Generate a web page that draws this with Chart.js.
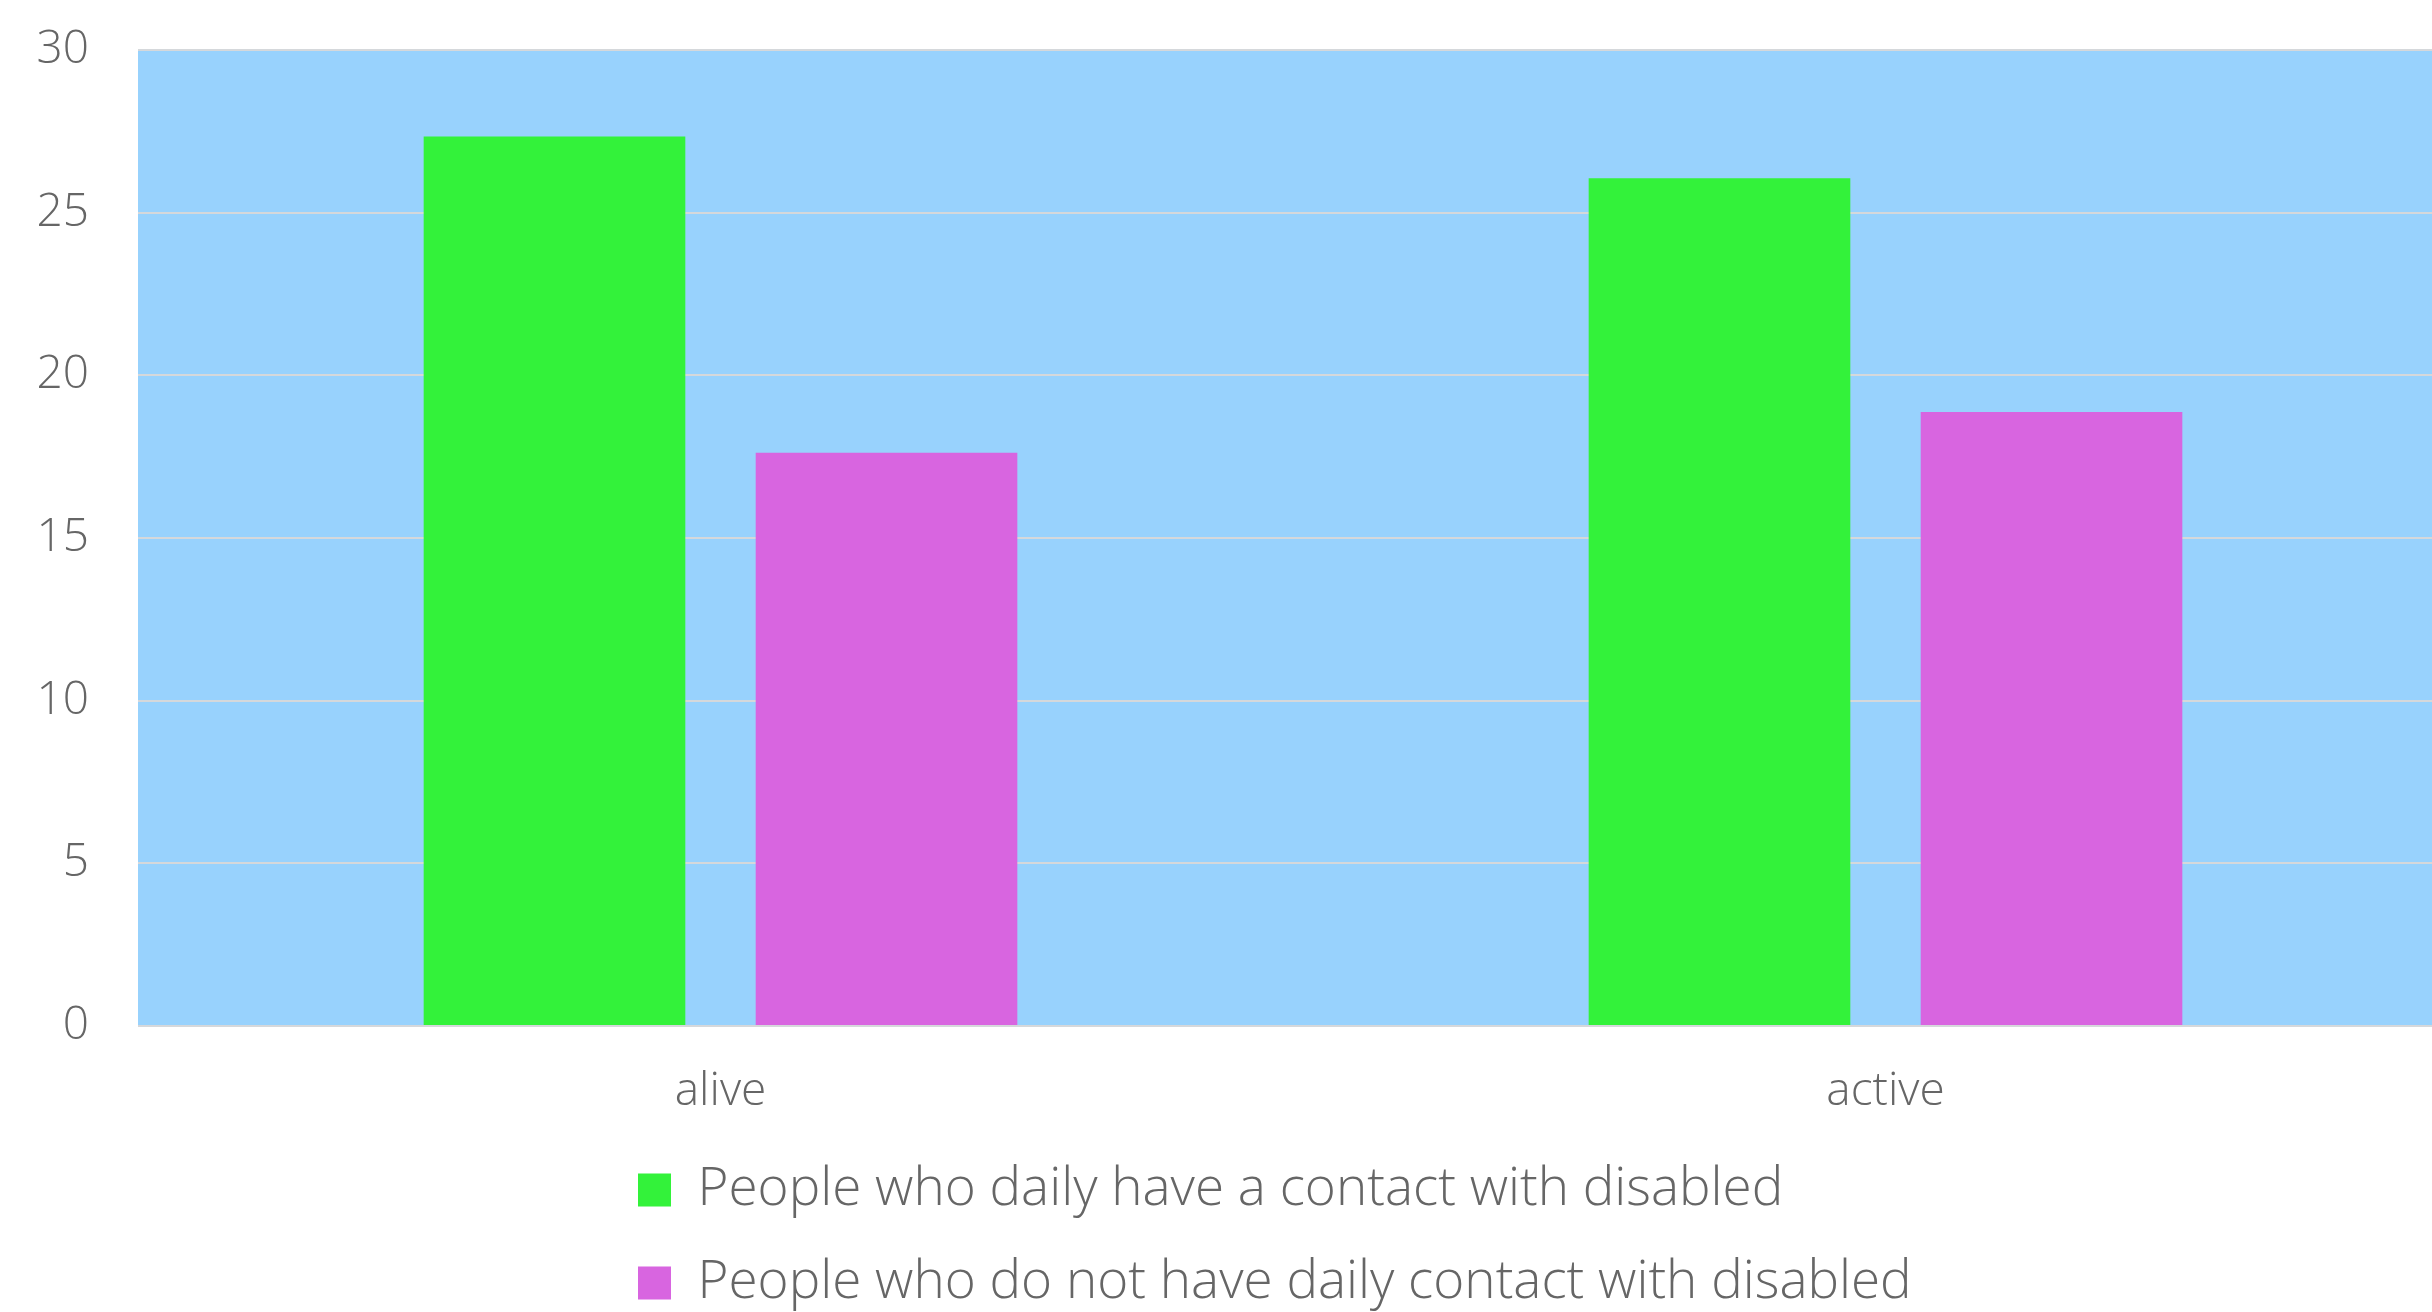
<!DOCTYPE html>
<html>
<head>
<meta charset="utf-8">
<script src="https://cdn.jsdelivr.net/npm/chart.js@4/dist/chart.umd.min.js"></script>
<style>
  html, body { margin: 0; padding: 0; background: #ffffff; overflow: hidden; width: 2432px; height: 1312px; }
  #wrap { width: 2468px; height: 1312px; position: relative; }
</style>
</head>
<body>
<div id="wrap"><canvas id="c"></canvas></div>
<script>
// ---- data ----
const categories = ['alive', 'active'];
const seriesNames = [
  'People who daily have a contact with disabled',
  'People who do not have daily contact with disabled'
];
const dailyContact = [27.34, 26.06];
const noDailyContact = [17.62, 18.87];
const yTicks = [0, 5, 10, 15, 20, 25, 30];

// ---- styles ----
const FONT = '"Open Sans", Lato, sans-serif';
const TEXT = '#666666';
const PLOT_BG = '#98d2fd';
const GREEN = '#33f23a';
const MAGENTA = '#d865e0';

const plotBg = {
  id: 'plotBg',
  beforeDraw(chart) {
    const a = chart.chartArea, ctx = chart.ctx;
    ctx.save();
    ctx.fillStyle = PLOT_BG;
    ctx.fillRect(a.left, a.top, a.right - a.left, a.bottom - a.top);
    ctx.restore();
  }
};
// one legend entry per row, rows starting at the same x
const legendPlace = {
  id: 'legendPlace',
  beforeLayout(chart) {
    const lg = chart.legend;
    if (!lg || lg._wrapPatched) return;
    const orig = lg._fitRows;
    lg._fitRows = function (...args) {
      const mw = this.maxWidth;
      this.maxWidth = 1400;
      const r = orig.apply(this, args);
      this.maxWidth = mw;
      return r;
    };
    lg._wrapPatched = true;
  },
  afterLayout(chart) {
    const lg = chart.legend;
    if (!lg) return;
    lg.left = 598;
    lg.top = 1123.5;
  }
};

new Chart(document.getElementById('c'), {
  type: 'bar',
  data: {
    labels: categories,
    datasets: [
      { label: seriesNames[0], data: dailyContact, backgroundColor: GREEN, borderWidth: 0 },
      { label: seriesNames[1], data: noDailyContact, backgroundColor: MAGENTA, borderWidth: 0 }
    ]
  },
  options: {
    responsive: true,
    maintainAspectRatio: false,
    animation: false,
    categoryPercentage: 0.570,
    barPercentage: 0.788,
    layout: { padding: { top: 50, right: 0, bottom: 0, left: 0 } },
    plugins: {
      tooltip: { enabled: false },
      title: { display: false },
      legend: {
        display: true,
        position: 'bottom',
        align: 'start',
        labels: {
          boxWidth: 33,
          boxHeight: 33,
          padding: 40,
          color: TEXT,
          font: { family: FONT, size: 53, weight: 300 }
        }
      }
    },
    scales: {
      x: {
        type: 'category',
        afterFit: s => { s.height = 90; },
        grid: { display: false, drawTicks: false },
        border: { display: false },
        ticks: {
          autoSkip: false,
          maxRotation: 0,
          padding: 38,
          color: TEXT,
          font: { family: FONT, size: 46, weight: 300 }
        }
      },
      y: {
        min: 0,
        max: 30,
        afterBuildTicks: s => { s.ticks = yTicks.map(v => ({ value: v })); },
        afterFit: s => { s.width = 138; },
        grid: {
          color: '#d5d8db',
          lineWidth: 2,
          drawTicks: true,
          tickLength: 49,
          tickColor: 'rgba(0,0,0,0)'
        },
        border: { display: false },
        ticks: {
          stepSize: 5,
          padding: 0,
          color: TEXT,
          font: { family: FONT, size: 46, weight: 300 }
        }
      }
    }
  },
  plugins: [plotBg, legendPlace]
});
</script>
</body>
</html>
